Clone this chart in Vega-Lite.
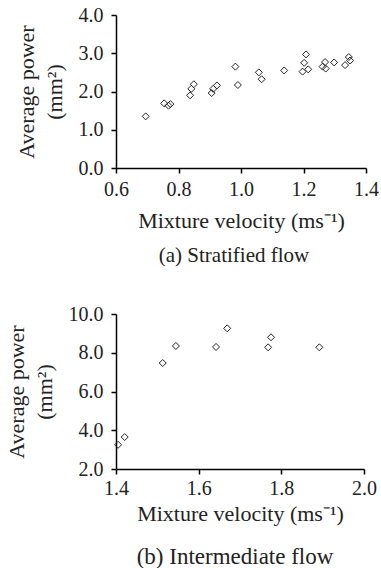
{
  "$schema": "https://vega.github.io/schema/vega-lite/v6.json",
  "padding": {"left": 5, "top": 5, "right": 0, "bottom": 0},
  "background": "white",
  "config": {
    "font": "Liberation Serif",
    "view": {"stroke": null},
    "axis": {
      "grid": false,
      "domainColor": "black",
      "domainWidth": 1.5,
      "tickColor": "black",
      "tickWidth": 1.5,
      "tickSize": 5,
      "labelFont": "Liberation Serif",
      "labelFontSize": 20,
      "labelColor": "#222",
      "labelPadding": 8,
      "labelFlush": false,
      "titleFont": "Liberation Serif",
      "titleFontSize": 22,
      "titleFontWeight": "normal",
      "titleColor": "#222",
      "format": ".1f"
    },
    "title": {"font": "Liberation Serif", "fontSize": 21, "fontWeight": "normal", "color": "#222", "orient": "bottom"}
  },
  "columns": 1,
  "spacing": 38,
  "concat": [
    {
      "width": 250,
      "height": 153,
      "title": {"text": "(a) Stratified flow", "dx": -7, "offset": 14},
      "data": {"values": [
        {"v": 0.695, "p": 1.35}, {"v": 0.754, "p": 1.69}, {"v": 0.768, "p": 1.63}, {"v": 0.774, "p": 1.67},
        {"v": 0.837, "p": 1.90}, {"v": 0.841, "p": 2.07}, {"v": 0.849, "p": 2.19}, {"v": 0.906, "p": 1.96},
        {"v": 0.911, "p": 2.07}, {"v": 0.923, "p": 2.16}, {"v": 0.982, "p": 2.65}, {"v": 0.990, "p": 2.17},
        {"v": 1.057, "p": 2.50}, {"v": 1.066, "p": 2.32}, {"v": 1.138, "p": 2.55}, {"v": 1.197, "p": 2.52},
        {"v": 1.202, "p": 2.75}, {"v": 1.208, "p": 2.97}, {"v": 1.215, "p": 2.58}, {"v": 1.261, "p": 2.65},
        {"v": 1.269, "p": 2.77}, {"v": 1.271, "p": 2.60}, {"v": 1.298, "p": 2.76}, {"v": 1.333, "p": 2.69},
        {"v": 1.345, "p": 2.90}, {"v": 1.349, "p": 2.81}
      ]},
      "mark": {"type": "point", "shape": "diamond", "filled": false, "stroke": "#222", "strokeWidth": 1, "size": 49, "opacity": 1},
      "encoding": {
        "x": {"field": "v", "type": "quantitative", "scale": {"domain": [0.6, 1.4], "nice": false, "zero": false},
              "axis": {"values": [0.6, 0.8, 1.0, 1.2, 1.4], "title": "Mixture velocity (ms\u207b\u00b9)", "titlePadding": 11, "labelPadding": 6}},
        "y": {"field": "p", "type": "quantitative", "scale": {"domain": [0, 4], "nice": false},
              "axis": {"values": [0, 1, 2, 3, 4], "title": ["Average power", "(mm\u00b2)"], "titleLineHeight": 28, "titlePadding": 12}}
      }
    },
    {
      "width": 248,
      "height": 155,
      "title": {"text": "(b) Intermediate flow", "dx": -5, "offset": 22, "fontSize": 23},
      "data": {"values": [
        {"v": 1.405, "p": 3.25}, {"v": 1.421, "p": 3.65}, {"v": 1.513, "p": 7.47}, {"v": 1.545, "p": 8.35},
        {"v": 1.642, "p": 8.30}, {"v": 1.669, "p": 9.26}, {"v": 1.768, "p": 8.28}, {"v": 1.775, "p": 8.80},
        {"v": 1.892, "p": 8.28}
      ]},
      "mark": {"type": "point", "shape": "diamond", "filled": false, "stroke": "#222", "strokeWidth": 1, "size": 49, "opacity": 1},
      "encoding": {
        "x": {"field": "v", "type": "quantitative", "scale": {"domain": [1.4, 2.0], "nice": false, "zero": false},
              "axis": {"values": [1.4, 1.6, 1.8, 2.0], "title": "Mixture velocity (ms\u207b\u00b9)", "titlePadding": 5, "labelPadding": 4}},
        "y": {"field": "p", "type": "quantitative", "scale": {"domain": [2, 10], "nice": false, "zero": false},
              "axis": {"values": [2, 4, 6, 8, 10], "title": ["Average power", "(mm\u00b2)"], "titleLineHeight": 28, "titlePadding": 12}}
      }
    }
  ]
}
